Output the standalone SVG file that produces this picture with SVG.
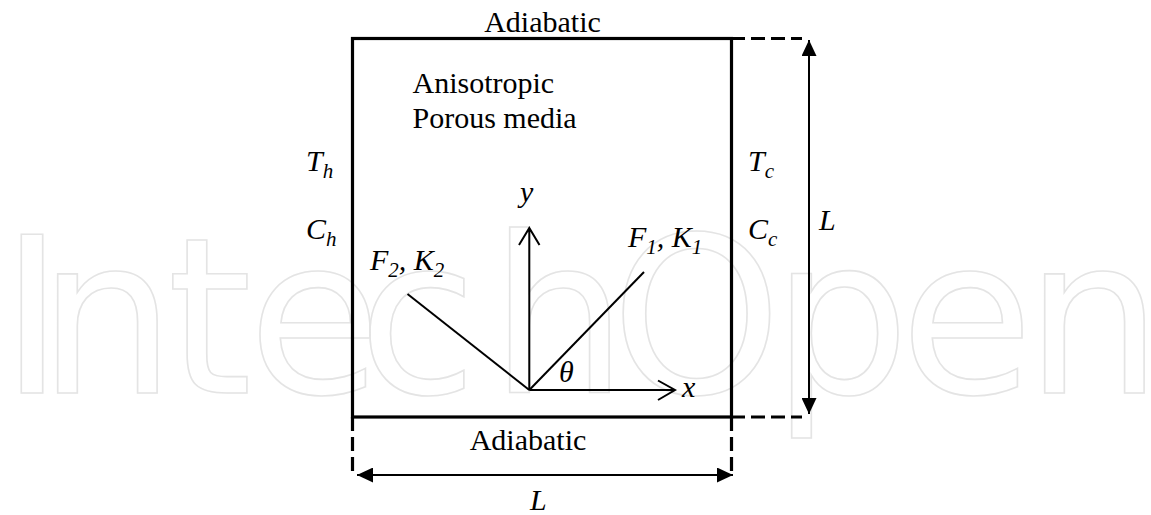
<svg xmlns="http://www.w3.org/2000/svg" width="1151" height="515" viewBox="0 0 1151 515">
<style>
.wm{font-family:"DejaVu Sans",sans-serif;font-weight:400;font-size:217px;fill:none;stroke:#e4e4e4;stroke-width:1.6}
.t{font-family:"Liberation Serif","Times New Roman",serif;font-size:30px;fill:#000}
.m{font-family:"Liberation Serif","Times New Roman",serif;font-style:italic;font-size:30px;fill:#000}
.s{font-size:21px}
.box{fill:none;stroke:#000;stroke-width:3.2}
.dash{fill:none;stroke:#000;stroke-width:3.2;stroke-dasharray:14 6}
.ln{fill:none;stroke:#000;stroke-width:2}
</style>
<defs>
<marker id="ah" viewBox="0 0 16 15" refX="16" refY="7.5" markerWidth="16" markerHeight="15" markerUnits="userSpaceOnUse" orient="auto-start-reverse">
<path d="M0,0 L16,7.5 L0,15 Z" fill="#000"/>
</marker>
</defs>
<rect width="1151" height="515" fill="#fff"/>
<text class="wm" x="0 38 167 248 358 490 611 772 900 1025" y="393">IntechOpen</text>

<g id="box">
<rect class="box" x="352.5" y="38.5" width="379" height="378.5"/>
</g>

<g id="connectors">
<path class="dash" d="M731,38.5 H802"/>
<path class="dash" d="M731,417 H802"/>
<path class="dash" d="M352.5,417 V475"/>
<path class="dash" d="M731.5,417 V475"/>
<line class="ln" x1="809" y1="40" x2="809" y2="414" marker-start="url(#ah)" marker-end="url(#ah)"/>
<line class="ln" x1="357" y1="475" x2="733" y2="475" marker-start="url(#ah)" marker-end="url(#ah)"/>
<path class="ln" d="M529.3,390 V228 M519,245 L529.3,228 L539.5,245"/>
<path class="ln" d="M529.3,390 H675 M658,380.5 L675,390 L658,400"/>
<line class="ln" x1="529.3" y1="390" x2="644" y2="272"/>
<line class="ln" x1="529.3" y1="390" x2="407.5" y2="294"/>
</g>

<g id="labels">
<text class="t" x="542.5" y="32" text-anchor="middle">Adiabatic</text>
<text class="t" x="412.5" y="93">Anisotropic</text>
<text class="t" x="412.5" y="128">Porous media</text>
<text class="t" x="528" y="450" text-anchor="middle">Adiabatic</text>
<text class="m" x="306" y="171">T<tspan class="s" dy="7">h</tspan></text>
<text class="m" x="306" y="239">C<tspan class="s" dy="7">h</tspan></text>
<text class="m" x="748" y="171">T<tspan class="s" dy="7">c</tspan></text>
<text class="m" x="748" y="239">C<tspan class="s" dy="7">c</tspan></text>
<text class="m" x="819" y="230">L</text>
<text class="m" x="530" y="510">L</text>
<text class="m" x="520" y="202">y</text>
<text class="m" x="682" y="397">x</text>
<text class="m" x="559" y="382">θ</text>
<text class="m" x="628" y="247">F<tspan class="s" dy="7">1</tspan><tspan dy="-7">, K</tspan><tspan class="s" dy="7">1</tspan></text>
<text class="m" x="370" y="270">F<tspan class="s" dy="7">2</tspan><tspan dy="-7">, K</tspan><tspan class="s" dy="7">2</tspan></text>
</g>
</svg>
